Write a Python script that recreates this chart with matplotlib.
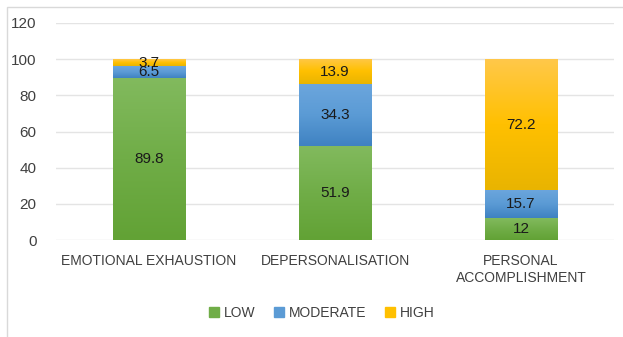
import numpy as np
import matplotlib
matplotlib.use("Agg")
import matplotlib.pyplot as plt
from matplotlib.colors import LinearSegmentedColormap
from matplotlib.patches import Rectangle

# ***** data *****
categories = ["EMOTIONAL EXHAUSTION", "DEPERSONALISATION", "PERSONAL\nACCOMPLISHMENT"]
series_names = ["LOW", "MODERATE", "HIGH"]
low = [89.8, 51.9, 12]
moderate = [6.5, 34.3, 15.7]
high = [3.7, 13.9, 72.2]
labels_low = ["89.8", "51.9", "12"]
labels_mod = ["6.5", "34.3", "15.7"]
labels_high = ["3.7", "13.9", "72.2"]
yticks = [0, 20, 40, 60, 80, 100, 120]

# gradient colours (top, mid, bottom) per series
grads = {
    "LOW": ["#82ba5e", "#70ad47", "#62a235"],
    "MODERATE": ["#6ca6dd", "#5b9bd5", "#3f82c2"],
    "HIGH": ["#ffc84a", "#ffc000", "#e9b400"],
}
solid = {"LOW": "#70ad47", "MODERATE": "#5b9bd5", "HIGH": "#ffc000"}

plt.rcParams['font.family'] = ['Liberation Sans', 'DejaVu Sans']

fig = plt.figure(figsize=(6.23, 3.37), dpi=100)
W, H = 623, 337
ax = fig.add_axes([56 / W, 1 - 240 / H, 558 / W, 217 / H])

x = np.arange(len(categories))
bw = 0.39

# **** stacked bars with vertical gradient ****
grad_img = np.linspace(1, 0, 256).reshape(-1, 1)
for name, vals, labs in [("LOW", low, labels_low), ("MODERATE", moderate, labels_mod),
                         ("HIGH", high, labels_high)]:
    if name == "LOW":
        bottoms = [0, 0, 0]
    elif name == "MODERATE":
        bottoms = low
    else:
        bottoms = [a + b for a, b in zip(low, moderate)]
    cmap = LinearSegmentedColormap.from_list(name, grads[name][::-1])
    bars = ax.bar(x, vals, bw, bottom=bottoms, color="none", edgecolor="none", zorder=2)
    for b in bars:
        bx, by = b.get_x(), b.get_y()
        bwid, bh = b.get_width(), b.get_height()
        im = ax.imshow(grad_img, cmap=cmap, aspect="auto", extent=[bx, bx + bwid, by, by + bh],
                       origin="upper", zorder=2, vmin=0, vmax=1)
        im.set_clip_path(Rectangle((bx, by), bwid, bh, transform=ax.transData))
    for xi, v, bt, lab in zip(x, vals, bottoms, labs):
        ax.text(xi, bt + v / 2, lab, ha="center", va="center", fontsize=11,
                color="#1a1a1a", zorder=4)

ax.set_aspect("auto")
ax.set_xlim(-0.5, 2.5)
ax.set_ylim(0, 120)
ax.set_yticks(yticks)
ax.set_xticks(x)
ax.set_xticklabels(categories, fontsize=10, color="#404040", linespacing=1.3)
ax.tick_params(axis="y", labelsize=11, labelcolor="#404040", length=0, pad=14)
ax.tick_params(axis="x", length=0, pad=10)
ax.grid(axis="y", color="#e4e4e4", linewidth=1, zorder=0)
ax.set_axisbelow(True)
for s in ax.spines.values():
    s.set_visible(False)

handles = [Rectangle((0, 0), 1, 1, color=solid[n]) for n in series_names]
fig.legend(handles, series_names, loc="center", bbox_to_anchor=(322 / W, 1 - 313 / H),
           ncol=3, frameon=False, fontsize=10, handlelength=0.7, handleheight=0.7,
           columnspacing=1.3, handletextpad=0.4, labelcolor="#404040")

# chart border
fig.patches.append(Rectangle((7 / W, -0.1), 1.2, 1 - 7 / H + 0.1, transform=fig.transFigure,
                             fill=False, edgecolor="#d9d9d9", linewidth=1))

fig.savefig("out.png", dpi=100, facecolor="white")
